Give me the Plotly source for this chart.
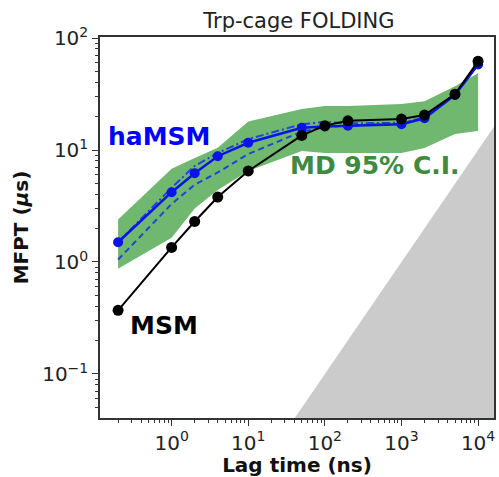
import plotly.graph_objects as go

# ---- data ----
lag_ns = [0.2, 1, 2, 4, 10, 50, 100, 200, 1000, 2000, 5000, 10000]
msm_mfpt = [0.37, 1.35, 2.3, 3.8, 6.5, 13.5, 16.5, 18.2, 18.9, 20.5, 31.5, 62]
hamsm_mfpt = [1.5, 4.2, 6.2, 8.8, 11.6, 15.8, 16.2, 16.5, 17.0, 19.2, 31, 58]
hamsm_dash = [1.05, 3.3, 4.9, 6.3, 9.2, 14.6, 16.0, 16.6, 17.2, 19.3, 31, 58]
hamsm_dashdot = [1.5, 4.6, 7.2, 9.4, 12.5, 17.0, 17.8, 17.3, 17.5, 19.5, 31, 58]
md_upper = [2.4, 6.8, 8.5, 10.5, 18.0, 23.2, 24.7, 24.7, 25.8, 27.3, 37, 48.5]
md_lower = [0.87, 1.65, 3.0, 4.4, 6.5, 9.8, 9.4, 9.4, 9.4, 10.4, 13.9, 14.8]
diag_lag = [10, 100000]  # boundary where MFPT equals lag time
ns_per_us = 1000
x_tickvals = [1, 10, 100, 1000, 10000]
x_ticktext = ["10<sup>0</sup>", "10<sup>1</sup>", "10<sup>2</sup>", "10<sup>3</sup>", "10<sup>4</sup>"]
y_tickvals = [0.1, 1, 10, 100]
y_ticktext = ["10<sup>−1</sup>", "10<sup>0</sup>", "10<sup>1</sup>", "10<sup>2</sup>"]

minor_x = [m * 10 ** k for k in range(-2, 5) for m in range(2, 10)]
minor_y = [m * 10 ** k for k in range(-3, 3) for m in range(2, 10)]

FONT = "DejaVu Sans"
GREEN = "#70b870"
fig = go.Figure()

# gray forbidden region (MFPT < lag time)
diag_y = [t / ns_per_us for t in diag_lag]
fig.add_trace(go.Scatter(
    x=[diag_lag[0], diag_lag[1], diag_lag[1]],
    y=[diag_y[0], diag_y[1], diag_y[0]],
    fill="toself", fillcolor="#cbcbcb", mode="none", showlegend=False, hoverinfo="skip"))

# MD 95% CI band
fig.add_trace(go.Scatter(x=lag_ns, y=md_lower, mode="lines", line=dict(width=0, color=GREEN),
                         showlegend=False, hoverinfo="skip"))
fig.add_trace(go.Scatter(x=lag_ns, y=md_upper, mode="lines", line=dict(width=0, color=GREEN),
                         fill="tonexty", fillcolor=GREEN, showlegend=False, hoverinfo="skip"))

# haMSM variants
fig.add_trace(go.Scatter(x=lag_ns, y=hamsm_dash, mode="lines",
                         line=dict(color="#1f45d6", width=2, dash="6px,4px"), showlegend=False))
fig.add_trace(go.Scatter(x=lag_ns, y=hamsm_dashdot, mode="lines",
                         line=dict(color="#1f45d6", width=2, dash="8px,3px,2px,3px"), showlegend=False))
fig.add_trace(go.Scatter(x=lag_ns, y=hamsm_mfpt, mode="lines+markers",
                         line=dict(color="#0a14e6", width=2.5),
                         marker=dict(color="#0a14e6", size=10), showlegend=False))

# MSM
fig.add_trace(go.Scatter(x=lag_ns, y=msm_mfpt, mode="lines+markers",
                         line=dict(color="black", width=2),
                         marker=dict(color="black", size=11), showlegend=False))

axis_common = dict(
    type="log", showgrid=False, zeroline=False, showline=True, mirror=True,
    linecolor="#333333", linewidth=1.5, ticks="outside", ticklen=6, tickwidth=1.2,
    tickcolor="#333333", tickfont=dict(family=FONT, size=20, color="#222222"),
)

fig.update_layout(
    width=499, height=477,
    margin=dict(l=100, r=3, t=37, b=59),
    paper_bgcolor="white", plot_bgcolor="white",
    title=dict(text="Trp-cage FOLDING", x=0.599, xanchor="center", y=0.957, yanchor="middle",
               font=dict(family=FONT, size=21, color="#222222")),
    xaxis=dict(axis_common, range=[-0.935, 4.208], tickmode="array",
               tickvals=x_tickvals, ticktext=x_ticktext,
               minor=dict(tickmode="array", tickvals=minor_x, ticks="outside", ticklen=3,
                          tickcolor="#333333", showgrid=False),
               title=dict(text="<b>Lag time (ns)</b>", font=dict(family=FONT, size=20, color="#111111"),
                          standoff=5)),
    yaxis=dict(axis_common, range=[-1.393, 2.009], tickmode="array",
               tickvals=y_tickvals, ticktext=y_ticktext,
               minor=dict(tickmode="array", tickvals=minor_y, ticks="outside", ticklen=3,
                          tickcolor="#333333", showgrid=False),
               title=dict(text="<b>MFPT (<i>μ</i>s)</b>", font=dict(family=FONT, size=20, color="#111111"),
                          standoff=8)),
    annotations=[
        dict(text="<b>haMSM</b>", xref="paper", yref="paper", x=0.149, y=0.740,
             xanchor="center", yanchor="middle",
             showarrow=False, font=dict(family=FONT, size=25, color="#0000ff")),
        dict(text="<b>MD 95% C.I.</b>", xref="paper", yref="paper", x=0.697, y=0.664,
             xanchor="center", yanchor="middle",
             showarrow=False, font=dict(family=FONT, size=25, color="#3f8a3f")),
        dict(text="<b>MSM</b>", xref="paper", yref="paper", x=0.162, y=0.244,
             xanchor="center", yanchor="middle",
             showarrow=False, font=dict(family=FONT, size=25, color="black")),
    ],
)

fig.write_html("out.html")
